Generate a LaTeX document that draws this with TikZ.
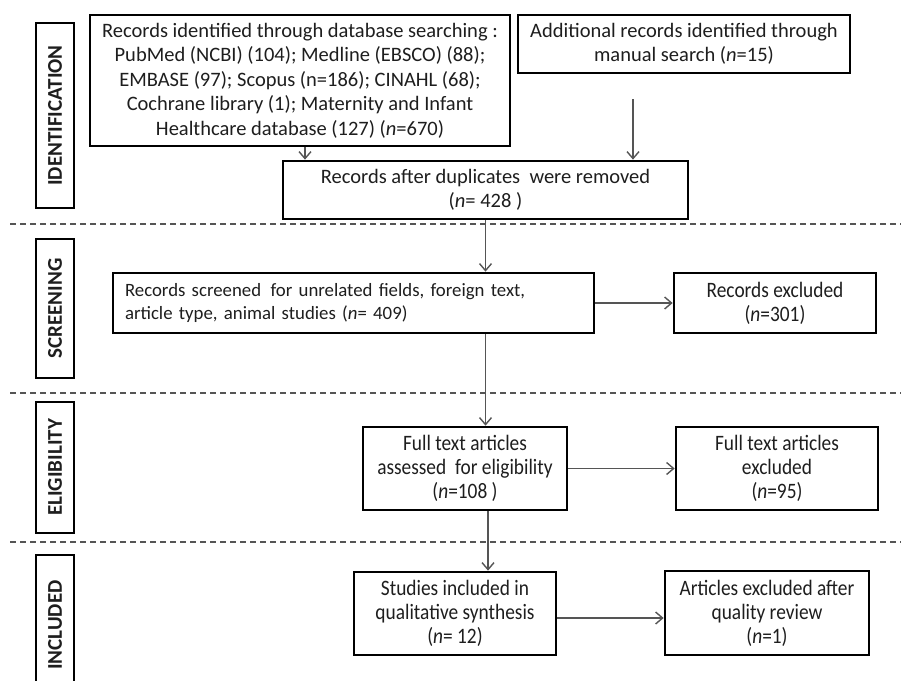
\documentclass[tikz,border=0pt]{standalone}
\usepackage{fontspec}
\setmainfont{Carlito}
\newfontfamily\narrowfont[FakeStretch=0.88]{Carlito}
\usepackage{tikz}
\usetikzlibrary{positioning,shadows,arrows.meta}

\definecolor{linegray}{HTML}{555555}
\definecolor{textgray}{HTML}{1E1E1E}

\begin{document}
\begin{tikzpicture}[x=1pt, y=-1pt,
    phase/.style={rectangle, draw=black, fill=white, line width=2pt, rotate=90,
        minimum height=38pt, inner sep=0pt, text=textgray,
        font=\fontsize{21}{24}\selectfont\bfseries,
        drop shadow={opacity=0.25, shadow xshift=1pt, shadow yshift=-1pt}},
    rec/.style={rectangle, draw=black, fill=white, line width=2.7pt, align=center,
        inner sep=0pt, text=textgray, font=\fontsize{20.5}{24.5}\selectfont,
        drop shadow={opacity=0.25, shadow xshift=1pt, shadow yshift=-1pt}},
    slim/.style={rec, font=\narrowfont\fontsize{22}{24}\selectfont},
    arr/.style={draw=linegray, line width=1.4pt,
        -{Straight Barb[length=7pt, width=12pt]}},
    sep/.style={draw=linegray, line width=1.6pt, dash pattern=on 6pt off 4pt}
]
\clip (0,0) rectangle (901,680);

% phase labels
\node [phase, minimum width=185pt] (idlab) at (55,115.5) {IDENTIFICATION};
\node [phase, minimum width=139pt] (scrlab) at (55,308.5) {SCREENING};
\node [phase, minimum width=131pt] (eliglab) at (55,467.5) {ELIGIBILITY};
\node [phase, minimum width=140pt] (inclab) at (55,625) {INCLUDED};

% separators
\draw [sep] (10,224) -- (901,224);
\draw [sep] (10,393) -- (901,393);
\draw [sep] (10,542) -- (901,542);

% identification
\node [rec, minimum width=420pt, minimum height=131pt] (db) at (300,80.5)
    {Records identified through database searching :\\
     PubMed (NCBI) (104); Medline (EBSCO) (88);\\
     EMBASE (97); Scopus (n=186); CINAHL (68);\\
     Cochrane library (1); Maternity and Infant\\
     Healthcare database (127) (\textit{n}=670)};
\node [rec, minimum width=332pt, minimum height=58pt] (manual) at (684,44)
    {Additional records identified through\\
     manual search (\textit{n}=15)};
\node [rec, minimum width=405pt, minimum height=58pt] (dup) at (485.5,190)
    {Records after duplicates\ \ were removed\\
     (\textit{n}= 428 )};

% screening
\node [rec, font=\fontsize{18.8}{23}\selectfont, align=left,
    text width=457pt, inner xsep=12pt, minimum height=60pt] (screen) at (353.5,303)
    {Records screened\,\ for unrelated fields, foreign text,\\
     article type, animal studies (\textit{n}= 409)};
\node [slim, minimum width=202pt, minimum height=60pt] (excl1) at (775,303)
    {Records excluded\\ (\textit{n}=301)};

% eligibility
\node [slim, minimum width=204pt, minimum height=83pt] (full) at (465,468.5)
    {Full text articles\\ assessed\ \ for eligibility\\ (\textit{n}=108 )};
\node [slim, minimum width=202pt, minimum height=83pt] (excl2) at (777,468.5)
    {Full text articles\\ excluded\\ (\textit{n}=95)};

% included
\node [slim, minimum width=202pt, minimum height=83pt] (studies) at (455,613.5)
    {Studies included in\\ qualitative synthesis\\ (\textit{n}= 12)};
\node [slim, minimum width=204pt, minimum height=84pt] (excl3) at (767,613)
    {Articles excluded after\\ quality review\\ (\textit{n}=1)};

% connectors
\draw [arr] ([xshift=5pt]db.south) -- ([xshift=5pt]db.south |- dup.north);
\draw [arr, shorten <=25pt] ([xshift=-51pt]manual.south)
    -- ([xshift=-51pt]manual.south |- dup.north);
\draw [arr] (dup.south) -- (dup.south |- screen.north);
\draw [arr] (screen.east) -- (excl1.west);
\draw [arr] (dup.south |- screen.south) -- (dup.south |- full.north);
\draw [arr] (full.east) -- (excl2.west);
\draw [arr] ([xshift=23pt]full.south) -- ([xshift=23pt]full.south |- studies.north);
\draw [arr] ([yshift=-4.5pt]studies.east) -- ([yshift=-4.5pt]studies.east -| excl3.west);

\end{tikzpicture}
\end{document}
